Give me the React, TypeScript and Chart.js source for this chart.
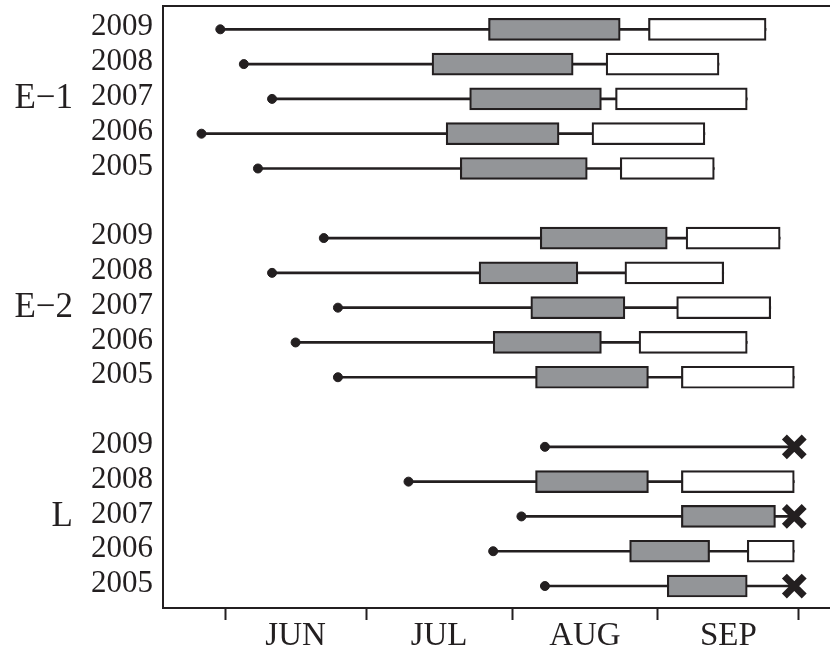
import React, { useEffect, useRef } from 'react';
import { Chart, registerables } from 'chart.js';

Chart.register(...registerables);

// ---- Data (x values are days after 1 June) ----
const groupNames = ['E\u22121', 'E\u22122', 'L'];
const years = ['2009', '2008', '2007', '2006', '2005'];
const monthNames = ['JUN', 'JUL', 'AUG', 'SEP'];
const monthStartDays = [0, 30, 61, 92, 122];

// rows: E-1 2009..2005, E-2 2009..2005, L 2009..2005
const firstDay = [-1, 4, 10, -5, 7, 21, 10, 24, 15, 24, 68, 39, 63, 57, 68];
const greyStart = [56, 44, 52, 47, 50, 67, 54, 65, 57, 66, null, 66, 97, 86, 94];
const greyEnd = [84, 74, 80, 71, 77, 94, 75, 85, 80, 90, null, 90, 117, 103, 111];
const whiteStart = [90, 81, 83, 78, 84, 98, 85, 96, 88, 97, null, 97, null, 111, null];
const whiteEnd = [115, 105, 111, 102, 104, 118, 106, 116, 111, 121, null, 121, null, 121, null];
const crossDay = [null, null, null, null, null, null, null, null, null, null, 121, null, 121, null, 121];

const INK = '#231f20';
const GREY = '#939598';
const SERIF = "'Liberation Serif', 'Times New Roman', serif";

const X_MIN = -13.18;
const X_MAX = 128.59;
const Y_MIN = -0.67;
const Y_MAX = 16.632;

const perGroup = years.length;
const rowPos = (i: number) => Math.floor(i / perGroup) * (perGroup + 1) + (i % perGroup);
const rowIdx = firstDay.map((_, i) => i);
const lastDay = (i: number) => crossDay[i] ?? whiteEnd[i] ?? greyEnd[i] ?? firstDay[i];

export default function App() {
  const ref = useRef<HTMLCanvasElement | null>(null);

  useEffect(() => {
    if (!ref.current) return;
    const monthMid = monthNames.map((_, i) => (monthStartDays[i] + monthStartDays[i + 1]) / 2);
    const xTicks = [...monthStartDays, ...monthMid].sort((a, b) => a - b);

    const chart = new Chart(ref.current, {
      type: 'bar',
      data: {
        datasets: [
          {
            type: 'bar',
            xAxisID: 'x',
            yAxisID: 'y',
            data: rowIdx.map((i) => ({ x: [firstDay[i], lastDay(i)], y: rowPos(i) })),
            backgroundColor: INK,
            borderWidth: 0,
            barThickness: 2,
            grouped: false,
            order: 4,
          } as any,
          {
            type: 'bar',
            xAxisID: 'x',
            yAxisID: 'y',
            data: rowIdx
              .filter((i) => greyStart[i] != null)
              .map((i) => ({ x: [greyStart[i], greyEnd[i]], y: rowPos(i) })),
            backgroundColor: GREY,
            borderColor: INK,
            borderWidth: 2.2,
            borderSkipped: false,
            barThickness: 22,
            grouped: false,
            order: 3,
          } as any,
          {
            type: 'bar',
            xAxisID: 'x',
            yAxisID: 'y',
            data: rowIdx
              .filter((i) => whiteStart[i] != null)
              .map((i) => ({ x: [whiteStart[i], whiteEnd[i]], y: rowPos(i) })),
            backgroundColor: '#ffffff',
            borderColor: INK,
            borderWidth: 2.2,
            borderSkipped: false,
            barThickness: 22,
            grouped: false,
            order: 2,
          } as any,
          {
            type: 'scatter',
            indexAxis: 'x',
            xAxisID: 'x',
            yAxisID: 'y',
            data: rowIdx.map((i) => ({ x: firstDay[i], y: rowPos(i) })),
            pointRadius: 4.5,
            pointBackgroundColor: INK,
            pointBorderColor: INK,
            pointBorderWidth: 1,
            order: 1,
          } as any,
          {
            type: 'scatter',
            indexAxis: 'x',
            xAxisID: 'x',
            yAxisID: 'y',
            data: rowIdx
              .filter((i) => crossDay[i] != null)
              .map((i) => ({ x: crossDay[i], y: rowPos(i) })),
            pointStyle: 'crossRot',
            pointRadius: 14,
            pointBorderWidth: 7,
            pointBorderColor: INK,
            pointBackgroundColor: INK,
            order: 0,
          } as any,
        ],
      },
      options: {
        indexAxis: 'y',
        responsive: false,
        animation: false,
        events: [],
        layout: { autoPadding: false, padding: { top: 6, left: 0, right: 0, bottom: 0 } },
        plugins: { legend: { display: false }, tooltip: { enabled: false } },
        scales: {
          x: {
            type: 'linear',
            position: 'bottom',
            offset: false,
            beginAtZero: false,
            min: X_MIN,
            max: X_MAX,
            afterBuildTicks: (s: any) => {
              s.ticks = xTicks.map((v) => ({ value: v }));
            },
            ticks: {
              autoSkip: false,
              maxRotation: 0,
              minRotation: 0,
              padding: 0,
              color: INK,
              font: { family: SERIF, size: 33, lineHeight: 1 },
              callback: (v: any) => {
                const k = monthMid.indexOf(Number(v));
                return k >= 0 ? monthNames[k] : '';
              },
            },
            grid: {
              display: true,
              offset: false,
              drawOnChartArea: false,
              drawTicks: true,
              tickLength: 12,
              tickWidth: 2,
              tickColor: (ctx: any) =>
                ctx.tick && monthStartDays.includes(ctx.tick.value) ? INK : 'rgba(0,0,0,0)',
            },
            border: { display: true, width: 2, color: INK },
            afterFit: (s: any) => {
              s.height = 50;
              s.paddingLeft = 0;
              s.paddingRight = 0;
            },
          },
          xTop: {
            type: 'linear',
            position: 'top',
            display: true,
            offset: false,
            ticks: { display: false },
            grid: { display: false, drawTicks: false, offset: false },
            border: { display: true, width: 2, color: INK },
            afterFit: (s: any) => {
              s.height = 0;
              s.paddingLeft = 0;
              s.paddingRight = 0;
            },
          },
          y: {
            type: 'linear',
            position: 'left',
            reverse: true,
            offset: false,
            beginAtZero: false,
            min: Y_MIN,
            max: Y_MAX,
            weight: 0,
            afterBuildTicks: (s: any) => {
              s.ticks = rowIdx.map((i) => ({ value: rowPos(i) }));
            },
            ticks: {
              autoSkip: false,
              padding: 10,
              labelOffset: -2,
              color: INK,
              font: { family: SERIF, size: 31, lineHeight: 1 },
              callback: (v: any) => years[Number(v) % (perGroup + 1)],
            },
            grid: { display: false, drawTicks: false, offset: false },
            border: { display: true, width: 2, color: INK },
            afterFit: (s: any) => {
              s.width = 90;
              s.paddingTop = 0;
              s.paddingBottom = 0;
            },
          },
          yGroup: {
            type: 'linear',
            position: 'left',
            reverse: true,
            offset: false,
            min: Y_MIN,
            max: Y_MAX,
            weight: 1,
            afterBuildTicks: (s: any) => {
              s.ticks = groupNames.map((_, g) => ({ value: g * (perGroup + 1) + 2 }));
            },
            ticks: {
              autoSkip: false,
              padding: 0,
              crossAlign: 'near',
              color: INK,
              font: { family: SERIF, size: 35, lineHeight: 1 },
              callback: (v: any) => groupNames[Math.round((Number(v) - 2) / (perGroup + 1))],
            },
            grid: { display: false, drawTicks: false, offset: false },
            border: { display: false },
            afterFit: (s: any) => {
              s.width = 73;
              s.paddingTop = 0;
              s.paddingBottom = 0;
            },
          },
        },
      } as any,
    });
    return () => chart.destroy();
  }, []);

  return (
    <div style={{ position: 'absolute', left: 0, top: 0, width: 830, height: 658, background: '#fff' }}>
      <canvas ref={ref} width={830} height={658} style={{ display: 'block' }} />
    </div>
  );
}
